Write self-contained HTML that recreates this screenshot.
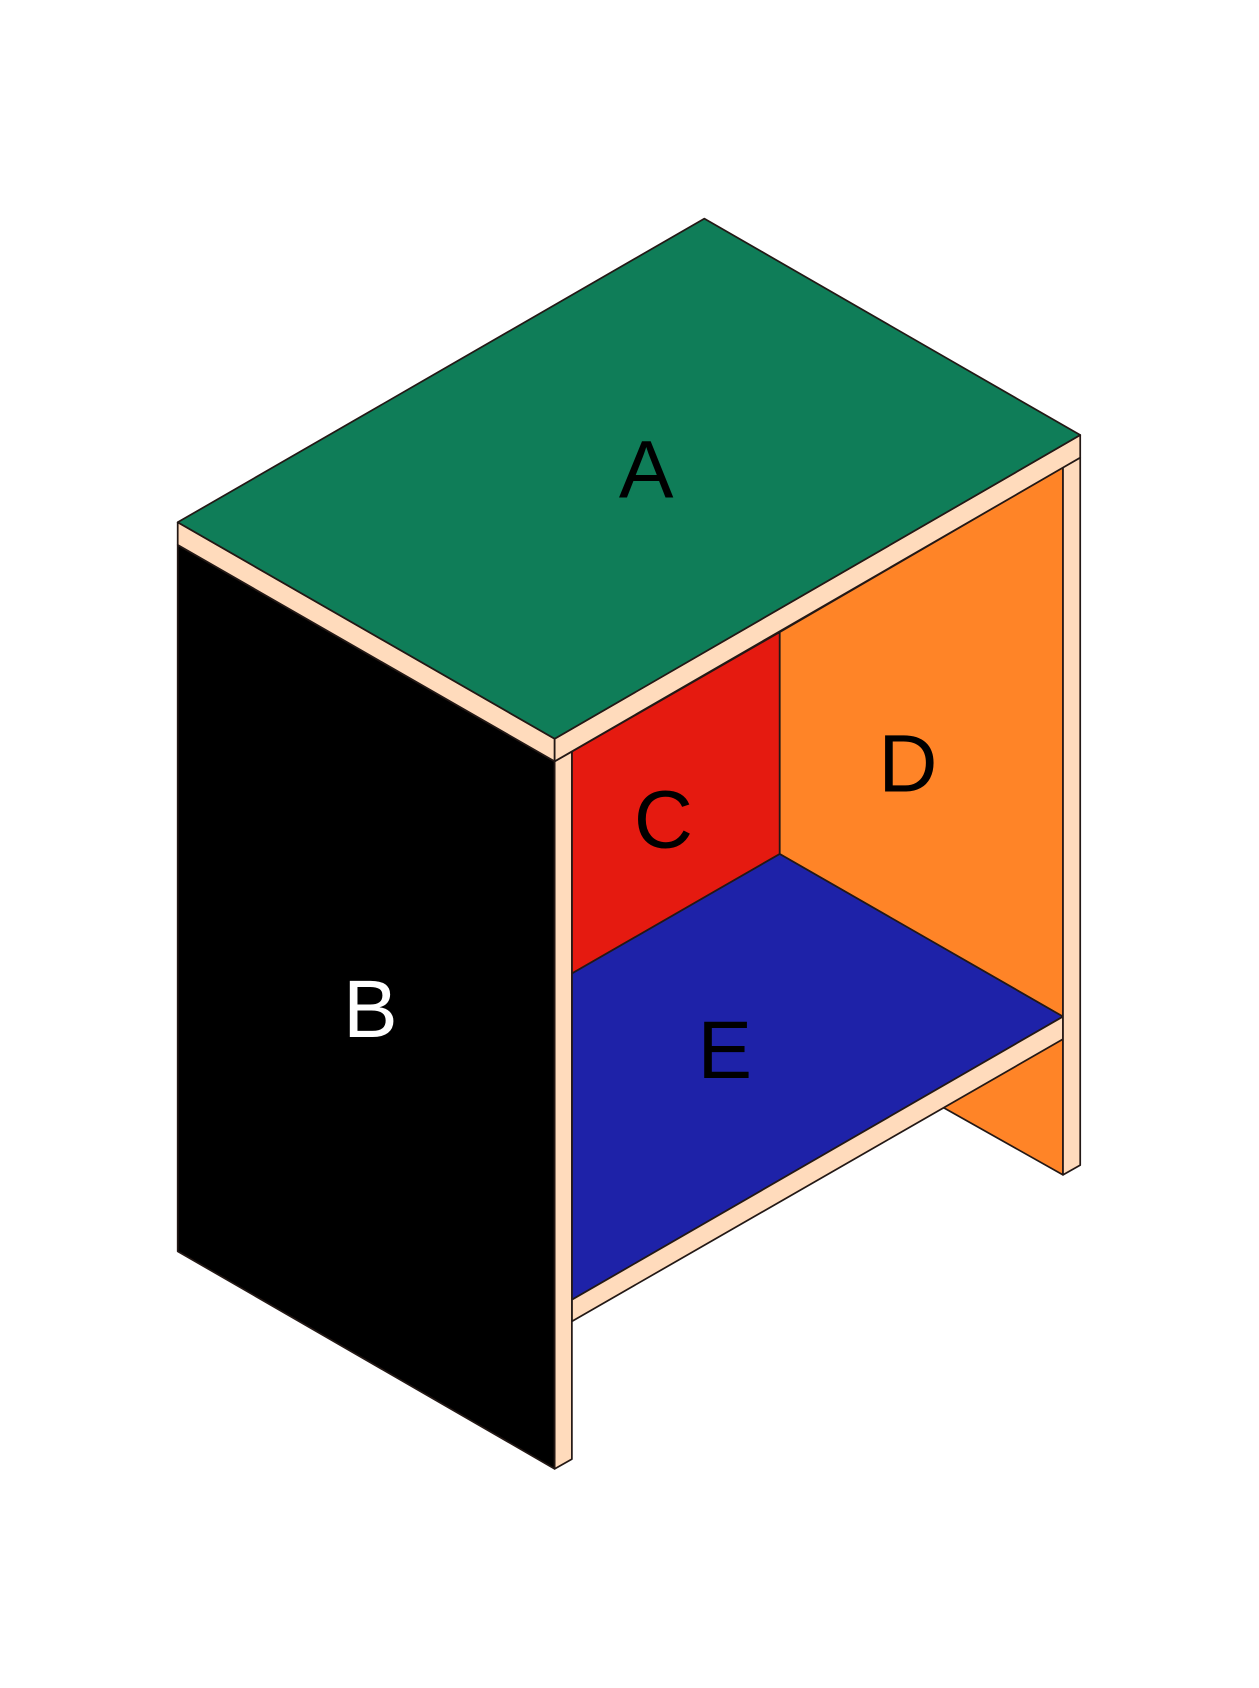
<!DOCTYPE html>
<html><head><style>html,body{margin:0;padding:0;background:#fff}svg{display:block}</style></head>
<body>
<svg width="1259" height="1688" viewBox="0 0 1169 1567.5" preserveAspectRatio="none" xmlns="http://www.w3.org/2000/svg">
<g stroke="#231815" stroke-width="1.6" stroke-linejoin="round">
<polygon points="875,1028 987,964 987,1091" fill="#FF8427"/>
<polygon points="531,698 724,587 724,793 531,904" fill="#E51A10"/>
<polygon points="724,587 987,434 987,944 724,793" fill="#FF8427"/>
<polygon points="531,904 724,793 987,944 531,1207" fill="#1E22A8"/>
<polygon points="531,1207 987,944 987,965 531,1227" fill="#FFDBBC"/>
<polygon points="987,434 1003,425 1003,1082 987,1091" fill="#FFDBBC"/>
<polygon points="165,506 515,707 515,1364 165,1162" fill="#000"/>
<polygon points="515,707 531,698 531,1355 515,1364" fill="#FFDBBC"/>
<polygon points="165,485 515,686 515,707 165,506" fill="#FFDBBC"/>
<polygon points="515,686 1003,404 1003,425 515,707" fill="#FFDBBC"/>
<polygon points="165,485 654,203 1003,404 515,686" fill="#0F7D58"/>
</g>
<g font-family="Liberation Sans, sans-serif" font-size="76" text-anchor="middle">
<text x="600" y="462">A</text>
<text x="344" y="963" fill="#fff">B</text>
<text x="616" y="787">C</text>
<text x="843" y="735">D</text>
<text x="673" y="1001">E</text>
</g>
</svg>
</body></html>
